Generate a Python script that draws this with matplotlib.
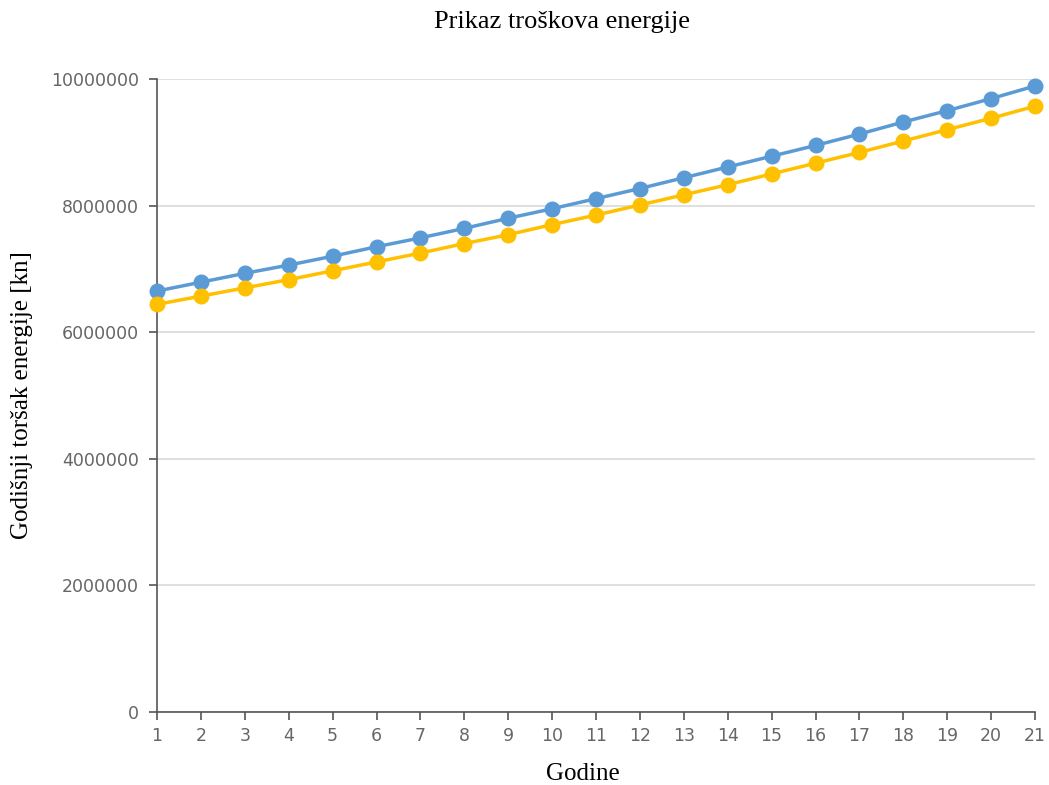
import matplotlib.pyplot as plt
from matplotlib.ticker import FuncFormatter

# Podaci ocitani sa slike
godine = list(range(1, 22))
trosak_plavi = [6650000, 6790000, 6930000, 7060000, 7200000, 7350000, 7490000,
                7640000, 7800000, 7950000, 8110000, 8270000, 8440000, 8610000,
                8780000, 8950000, 9130000, 9320000, 9500000, 9690000, 9890000]
trosak_zuti = [6440000, 6570000, 6700000, 6830000, 6970000, 7110000, 7250000,
               7400000, 7540000, 7700000, 7850000, 8010000, 8170000, 8330000,
               8500000, 8670000, 8840000, 9020000, 9200000, 9380000, 9570000]
y_ticks = [0, 2000000, 4000000, 6000000, 8000000, 10000000]

fig = plt.figure(figsize=(10.49, 7.85), dpi=100)
ax = fig.add_axes([157 / 1049, 73 / 785, 878 / 1049, 633 / 785])

ax.plot(godine, trosak_plavi, color='#5B9BD5', lw=2.5, marker='o', ms=10.5, clip_on=False, zorder=3)
ax.plot(godine, trosak_zuti, color='#FFC000', lw=2.5, marker='o', ms=10.5, clip_on=False, zorder=3)

ax.set_xlim(1, 21)
ax.set_ylim(0, 10000000)
ax.set_xticks(godine)
ax.set_yticks(y_ticks)
ax.yaxis.set_major_formatter(FuncFormatter(lambda v, p: f"{int(v)}"))
ax.grid(axis='y', color='#d9d9d9', lw=1.2)
ax.set_axisbelow(True)

for s in ['top', 'right']:
    ax.spines[s].set_visible(False)
for s in ['left', 'bottom']:
    ax.spines[s].set_color('#555555')
    ax.spines[s].set_linewidth(1.2)
ax.tick_params(colors='#555555', labelcolor='#666666', labelsize=12.5, length=6, width=1.2)
ax.tick_params(axis='y', pad=7)
ax.tick_params(axis='x', pad=5)

fig.text(562 / 1049, 1 - 22 / 785, 'Prikaz troškova energije', ha='center', va='center',
         family='Liberation Serif', fontsize=19)
fig.text(583 / 1049, 1 - 774 / 785, 'Godine', ha='center', va='center',
         family='Liberation Serif', fontsize=18)
fig.text(22 / 1049, 1 - 395 / 785, 'Godišnji toršak energije [kn]', ha='center', va='center',
         rotation=90, family='Liberation Serif', fontsize=18)

plt.savefig('out.png', dpi=100)
